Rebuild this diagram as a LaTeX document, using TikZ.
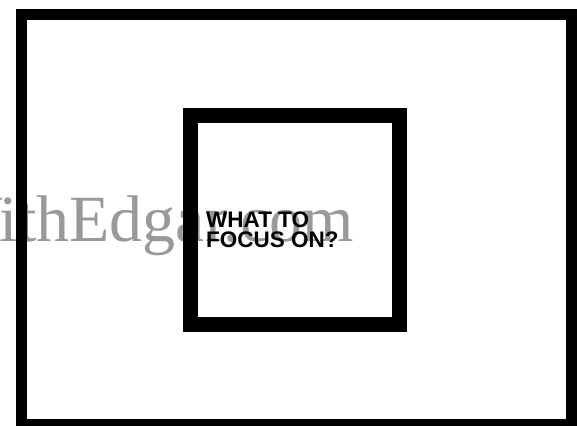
\documentclass[tikz,border=0pt]{standalone}
\usepackage{fontspec}
\setmainfont{Liberation Sans}
\newfontfamily\wmfont{Liberation Serif}
\tikzset{
  frameline/.style={draw=black, line width=11pt},
  focusbox/.style={draw=black, line width=15pt},
  focustext/.style={font=\fontsize{22.5}{20}\selectfont\bfseries, align=left, inner sep=0pt, anchor=north west, text=black},
  watermark/.style={font=\wmfont\fontsize{66}{66}\selectfont, text=black!40, inner sep=0pt, anchor=base west}
}
\begin{document}
\begin{tikzpicture}[x=1pt,y=-1pt]
  \useasboundingbox (0,0) rectangle (577,425);
  \clip (0,0) rectangle (577,425);
  \fill[white] (0,0) rectangle (577,425);
  \node[watermark] (wm) at (-60,241) {WithEdgar.com};
  \draw[frameline] (21,14.5) rectangle (571.5,424.5);
  \draw[focusbox] (190.5,115.5) rectangle (399.5,324.5);
  \node[focustext] (q) at (206,212) {WHAT TO\\FOCUS ON?};
\end{tikzpicture}
\end{document}
